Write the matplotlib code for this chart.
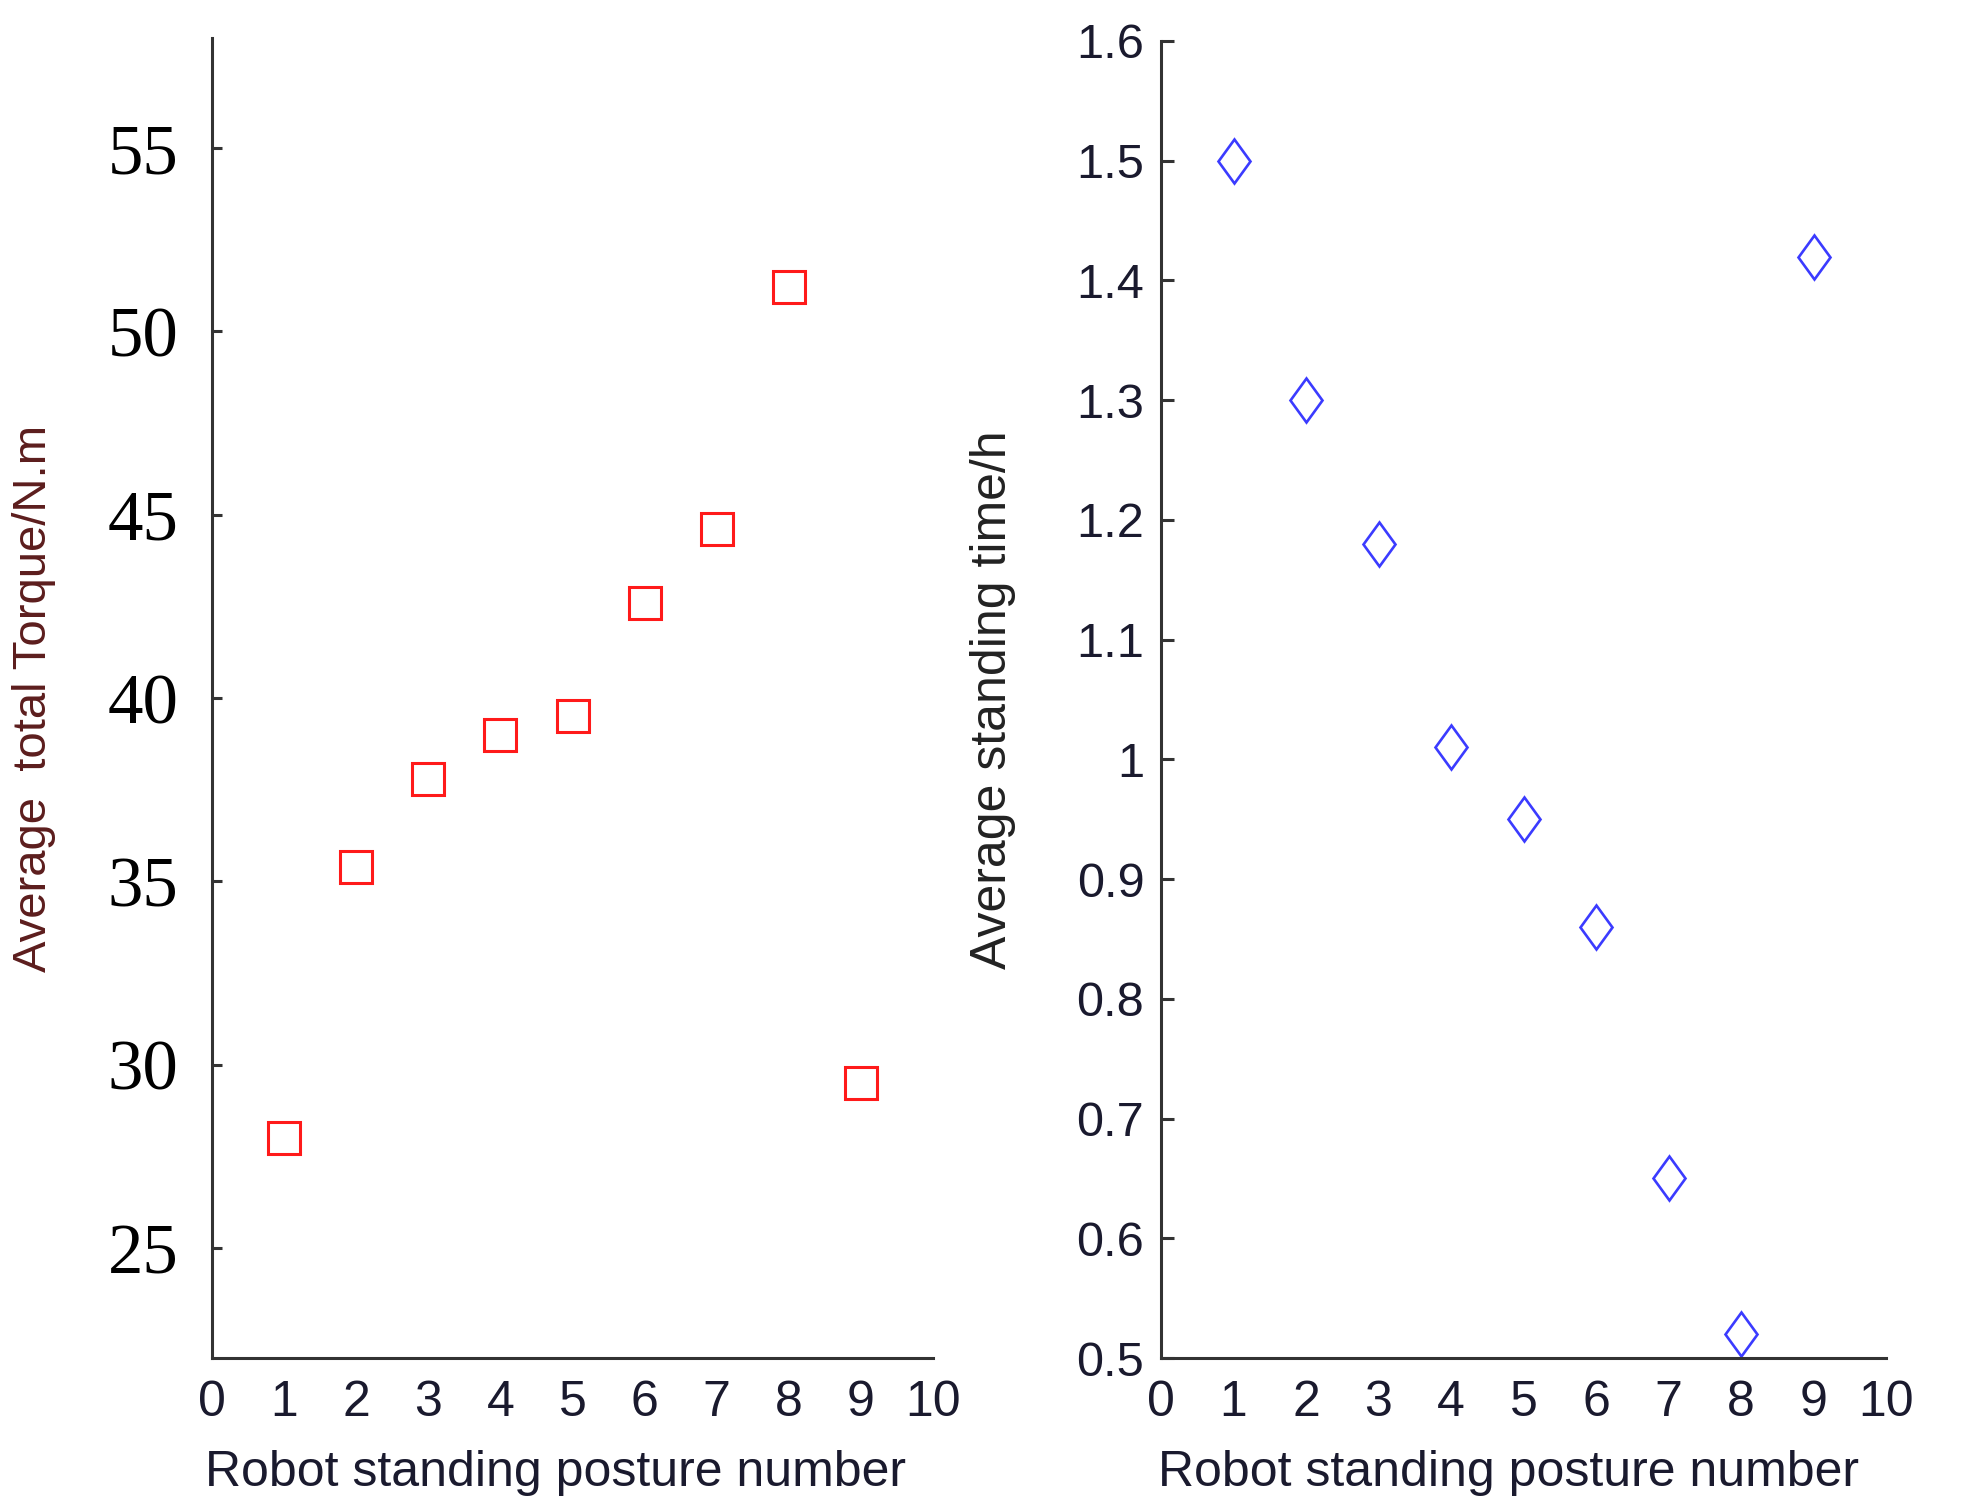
import numpy as np
import matplotlib.pyplot as plt
from matplotlib.markers import MarkerStyle
from matplotlib.transforms import Affine2D
from matplotlib.ticker import FormatStrFormatter, FuncFormatter

# Data
posture = np.arange(1, 10)
torque = [28.0, 35.4, 37.8, 39.0, 39.5, 42.6, 44.6, 51.2, 29.5]  # N.m
stand_time = [1.50, 1.30, 1.18, 1.01, 0.95, 0.86, 0.65, 0.52, 1.42]  # h

x_ticks = np.arange(0, 11)
x_marks = [2, 4, 6, 8, 10]
torque_ticks = [25, 30, 35, 40, 45, 50, 55]
time_ticks = np.round(np.arange(0.5, 1.61, 0.1), 1)

W, H = 1968, 1506
fig = plt.figure(figsize=(W / 100, H / 100), dpi=100)
ax1 = fig.add_axes([212 / W, 148 / H, 721 / W, 1320 / H])
ax2 = fig.add_axes([1161 / W, 148 / H, 725 / W, 1317 / H])

axis_col = '#333333'
for ax in (ax1, ax2):
    ax.spines['top'].set_visible(False)
    ax.spines['right'].set_visible(False)
    for s in ('left', 'bottom'):
        ax.spines[s].set_color(axis_col)
        ax.spines[s].set_linewidth(2.2)
    ax.set_xlim(0, 10)
    ax.set_xticks(x_ticks)
    ax.set_xticks(x_marks, minor=True)
    ax.tick_params(axis='x', which='major', length=0, pad=16, labelsize=36,
                   labelfontfamily='Liberation Sans', labelcolor='#1a1a2e')
    ax.tick_params(axis='x', which='minor', direction='in', length=10,
                   width=2.2, color=axis_col)
    ax.set_xlabel('Robot standing posture number', fontsize=36,
                  family='Liberation Sans', color='#1a1a2e')

# Left panel: torque
ax1.plot(posture, torque, linestyle='none', marker='s', markersize=23,
         markerfacecolor='none', markeredgecolor='#ff1a1a', markeredgewidth=2.2)
ax1.set_ylim(22, 58)
ax1.set_yticks(torque_ticks)
ax1.yaxis.set_major_formatter(FormatStrFormatter('%d'))
ax1.tick_params(axis='y', direction='in', length=7, width=2.2, color=axis_col,
                pad=24, labelsize=51, labelfontfamily='Liberation Serif')
ax1.set_ylabel('Average  total Torque/N.m', fontsize=34,
               family='Liberation Sans', color='#5c1d1d')
ax1.yaxis.set_label_coords(-0.216, 0.5)
ax1.xaxis.set_label_coords(0.476, -0.07)

# Right panel: standing time
diamond = MarkerStyle('D', transform=Affine2D().scale(0.71, 1.0))
ax2.plot(posture, stand_time, linestyle='none', marker=diamond, markersize=22.5,
         markerfacecolor='none', markeredgecolor='#3b3bff', markeredgewidth=1.9)
ax2.set_ylim(0.5, 1.6)
ax2.set_yticks(time_ticks)
ax2.yaxis.set_major_formatter(FuncFormatter(lambda v, p: '%g' % v))
ax2.tick_params(axis='y', direction='in', length=9, width=2.2, color=axis_col,
                pad=12, labelsize=35, labelfontfamily='Liberation Sans',
                labelcolor='#1a1a2e')
ax2.set_ylabel('Average standing time/h', fontsize=36,
               family='Liberation Sans', color='#222222')
ax2.yaxis.set_label_coords(-0.2, 0.5)
ax2.xaxis.set_label_coords(0.479, -0.07)

fig.savefig('out.png', dpi=100)
